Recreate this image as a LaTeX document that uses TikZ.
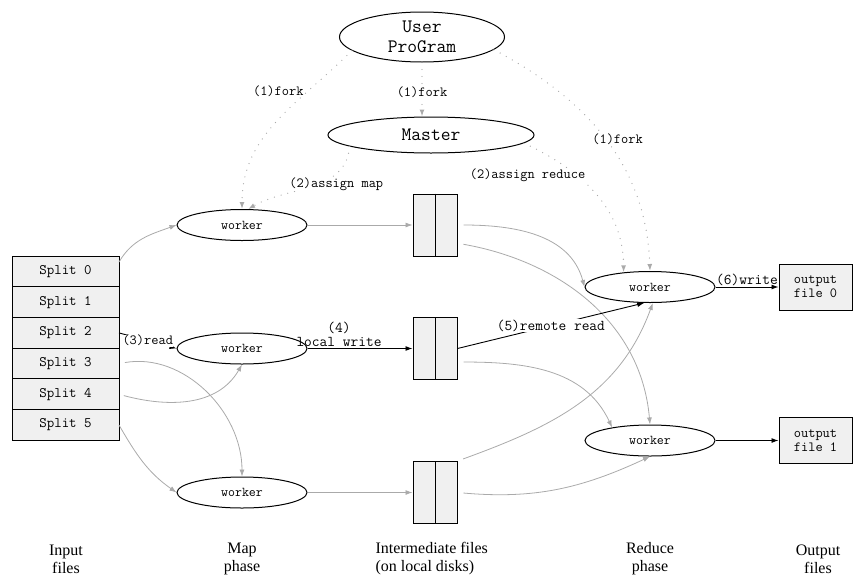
\documentclass[tikz,border=0pt]{standalone}
\usepackage{fontspec}
\setmainfont{Liberation Serif}
\usepackage{tikz}
\usetikzlibrary{shapes.geometric, positioning, arrows.meta}
\definecolor{flowgray}{RGB}{170,170,170}
\definecolor{boxfill}{RGB}{240,240,240}
\tikzset{
x=1pt, y=1pt, % one unit is one pixel of the sketch
>={Latex[length=7pt,width=5pt]}, % filled arrow heads
every node/.style={font=\ttfamily\fontsize{14}{15}\selectfont}, % typewriter text everywhere
big/.style={ellipse, draw, line width=1pt, inner sep=0pt, align=center, font=\ttfamily\fontsize{19}{20}\selectfont}, % user program and master
worker/.style={ellipse, draw, line width=1pt, minimum width=130, minimum height=31, inner sep=0pt, font=\ttfamily\fontsize{13.5}{15}\selectfont},
split/.style={rectangle, draw, fill=boxfill, line width=1pt, outer sep=0pt, minimum width=107, minimum height=30.7, inner sep=0pt, font=\ttfamily\fontsize{14.5}{15}\selectfont},
disk/.style={rectangle, draw, fill=boxfill, line width=1pt, minimum width=44, minimum height=62, inner sep=0pt},
outfile/.style={rectangle, draw, fill=boxfill, line width=1pt, minimum width=73, minimum height=46, inner sep=0pt, align=center, font=\ttfamily\fontsize{14}{14}\selectfont},
flow/.style={->, draw=flowgray, line width=0.8pt}, % data moved around
ctrl/.style={->, draw=black, line width=0.9pt}, % the numbered steps
cmd/.style={->, draw=flowgray, line width=1.3pt, line cap=round, dash pattern=on 0pt off 7pt}, % fork and assign
lbl/.style={fill=white, inner sep=0.5pt},
steplbl/.style={font=\ttfamily\fontsize{15}{14}\selectfont},
phase/.style={font=\rmfamily\fontsize{16}{18}\selectfont, align=center},
}

\begin{document}
\begin{tikzpicture}
        \useasboundingbox (0,0) rectangle (854,-576);

        \node[big, minimum width=165, minimum height=50] (up) at (422,-37) {User\\ProGram};
        \node[big, minimum width=206, minimum height=36] (master) at (431,-135) {Master};

        \node[split] (s0) at (65.5,-271.5) {Split 0};
        \node[split, below=0pt of s0] (s1) {Split 1};
        \node[split, below=0pt of s1] (s2) {Split 2};
        \node[split, below=0pt of s2] (s3) {Split 3};
        \node[split, below=0pt of s3] (s4) {Split 4};
        \node[split, below=0pt of s4] (s5) {Split 5};

        \node[worker] (mw1) at (242,-225) {worker};
        \node[worker] (mw2) at (242,-348.5) {worker};
        \node[worker] (mw3) at (242,-492.5) {worker};

        \node[disk] (d1) at (435,-225) {};
        \node[disk] (d2) at (435,-348.5) {};
        \node[disk] (d3) at (435,-492.5) {};
        \foreach \d in {d1,d2,d3}
          \draw[line width=1pt] (\d.north) -- (\d.south);

        \node[worker] (rw1) at (650,-287) {worker};
        \node[worker] (rw2) at (650,-440.5) {worker};

        \node[outfile] (of0) at (815.5,-287) {output\\file 0};
        \node[outfile] (of1) at (815.5,-440.5) {output\\file 1};

        \node[phase] (inph) at (66,-559) {Input\\files};
        \node[phase] (mapph) at (242,-559) {Map\\phase};
        \node[phase, align=left, anchor=west] (midph) at (372,-559) {Intermediate files\\(on local disks)};
        \node[phase] (redph) at (650,-559) {Reduce\\phase};
        \node[phase] (outph) at (818,-559) {Output\\files};

        % fork and assign
        \draw (up.south) edge[cmd] node[lbl, pos=0.55] {(1)fork} (up.south |- master.north)
        (up.191) edge[cmd, out=225, in=90] node[lbl, pos=0.28, left=3pt] {(1)fork} (mw1.north)
        (up.-10) edge[cmd, out=-28, in=92] node[lbl, pos=0.5, xshift=12pt] {(1)fork} (rw1.north)
        (master.188) edge[cmd, out=265, in=30] node[lbl, pos=0.45, xshift=18pt] {(2)assign map} (mw1.69)
        (master.-5) edge[cmd, out=-25, in=90] node[lbl, pos=0.34, left=-10pt] {(2)assign reduce} (rw1.151);

        % map phase
        \draw (s0.10) edge[flow, out=60, in=200] (mw1.west)
        (s2.east) edge[ctrl] node[lbl] {(3)read} (mw2.west)
        (s3.east) edge[flow, out=10, in=90, shorten <=6pt] (mw3.north)
        (s4.east) edge[flow, out=-15, in=240, shorten <=5pt] (mw2.south)
        (s5.east) edge[flow, out=-60, in=145] (mw3.west)
        (mw1) edge[flow] (d1)
        (mw2) edge[ctrl] node[steplbl, pos=0.3, above, align=center, inner sep=1pt] {(4)\\local write} (d2)
        (mw3) edge[flow] (d3);

        % reduce phase
        \draw (d1.east) edge[flow, out=0, in=105, shorten <=6pt] (rw1.west)
        (d1.-39) edge[flow, out=-10, in=95, shorten <=6pt] (rw2.north)
        (d2.east) edge[ctrl] node[lbl, steplbl] {(5)remote read} (rw1.250)
        (d2.-31) edge[flow, out=0, in=115, shorten <=6pt] (rw2.161)
        (d3.north east) edge[flow, out=20, in=250, shorten <=6pt] (rw1.-80)
        (d3.east) edge[flow, out=-5, in=205, shorten <=6pt] (rw2.south)
        (rw1) edge[ctrl] node[steplbl, above, inner sep=1pt] {(6)write} (of0)
        (rw2) edge[ctrl] (of1);
      \end{tikzpicture}
\end{document}
